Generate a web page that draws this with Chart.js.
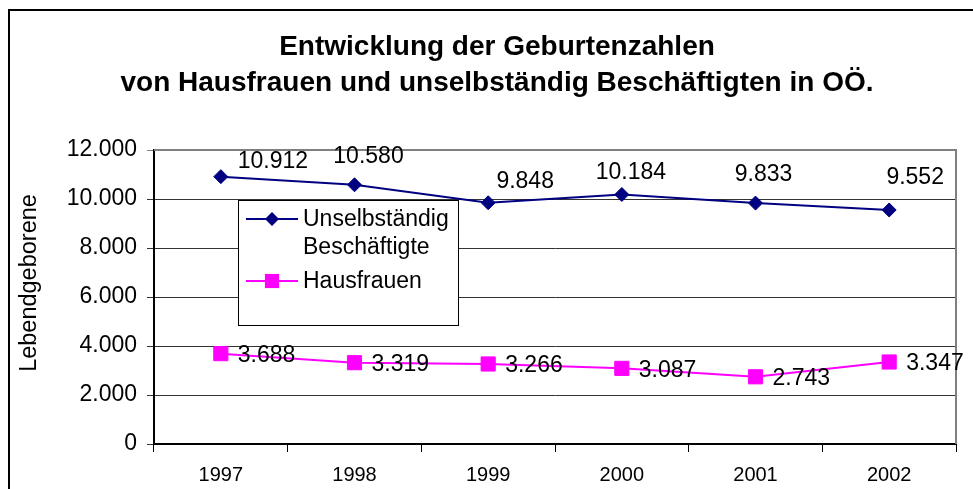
<!DOCTYPE html>
<html>
<head>
<meta charset="utf-8">
<script src="https://cdn.jsdelivr.net/npm/chart.js@4.4.0/dist/chart.umd.min.js"></script>
<style>
  html, body { margin: 0; padding: 0; background: #fff; }
  #wrap { width: 973px; height: 489px; }
</style>
</head>
<body>
<div id="wrap"><canvas id="geburtenChart" width="973" height="489"></canvas></div>
<script>
// Daten
const jahre = ['1997', '1998', '1999', '2000', '2001', '2002'];
const unselbstaendig = [10912, 10580, 9848, 10184, 9833, 9552];
const hausfrauen = [3688, 3319, 3266, 3087, 2743, 3347];
const yTicks = [0, 2000, 4000, 6000, 8000, 10000, 12000];

// Texte
const titelZeilen = ['Entwicklung der Geburtenzahlen', 'von Hausfrauen und unselbständig Beschäftigten in OÖ.'];
const yAchsenTitel = 'Lebendgeborene';
const legendeUnselbstaendig = ['Unselbständig', 'Beschäftigte'];
const legendeHausfrauen = ['Hausfrauen'];

// Versatz der Werte über der blauen Linie (Mitte der Beschriftung relativ zum Punkt)
const blauLabelVersatz = [[52, -15], [14, -28], [37, -21], [9, -22], [8, -28], [26, -32]];

const schrift = "'Liberation Sans', Arial, sans-serif";

function fmt(v) {
    return String(v).replace(/\B(?=(\d{3})+(?!\d))/g, '.');
}

// Rahmen, Titel, Achsentitel, Plotrand, Legende, Werte
const rahmenPlugin = {
    id: 'rahmen',
    beforeDraw(chart) {
        const ctx = chart.ctx;
        ctx.save();
        ctx.fillStyle = '#fff';
        ctx.fillRect(0, 0, chart.width, chart.height);
        ctx.strokeStyle = '#000';
        ctx.lineWidth = 2;
        ctx.beginPath();
        ctx.moveTo(9, chart.height);
        ctx.lineTo(9, 10);
        ctx.lineTo(chart.width, 10);
        ctx.stroke();

        // Titel
        ctx.fillStyle = '#000';
        ctx.font = 'bold 28px ' + schrift;
        ctx.textAlign = 'center';
        ctx.textBaseline = 'middle';
        ctx.fillText(titelZeilen[0], 497, 47);
        ctx.fillText(titelZeilen[1], 497, 83);

        // y-Achsentitel
        ctx.font = '23.5px ' + schrift;
        ctx.translate(30, 283);
        ctx.rotate(-Math.PI / 2);
        ctx.fillText(yAchsenTitel, 0, 0);
        ctx.restore();
    },
    beforeDatasetsDraw(chart) {
        const ctx = chart.ctx;
        const a = chart.chartArea;
        ctx.save();
        ctx.strokeStyle = '#808080';
        ctx.lineWidth = 2;
        ctx.beginPath();
        ctx.moveTo(a.left, a.top);
        ctx.lineTo(a.right, a.top);
        ctx.lineTo(a.right, a.bottom);
        ctx.stroke();

        // Legende im Diagramm
        ctx.fillStyle = '#fff';
        ctx.fillRect(238, 200, 221, 126);
        ctx.strokeStyle = '#000';
        ctx.lineWidth = 1;
        ctx.strokeRect(238.5, 200.5, 220, 125);

        const eintraege = [
            { ds: chart.data.datasets[0], zeilen: legendeUnselbstaendig, y: 219 },
            { ds: chart.data.datasets[1], zeilen: legendeHausfrauen, y: 281 }
        ];
        ctx.font = '23px ' + schrift;
        ctx.textAlign = 'left';
        ctx.textBaseline = 'middle';
        eintraege.forEach(e => {
            ctx.strokeStyle = e.ds.borderColor;
            ctx.lineWidth = 2;
            ctx.beginPath();
            ctx.moveTo(246, e.y);
            ctx.lineTo(298, e.y);
            ctx.stroke();
            zeichnePunkt(ctx, e.ds.pointStyle, e.ds.pointRadius, 272, e.y, e.ds.borderColor);
            ctx.fillStyle = '#000';
            e.zeilen.forEach((z, i) => ctx.fillText(z, 303, e.y + 1 + i * 28));
        });
        ctx.restore();
    },
    afterDatasetsDraw(chart) {
        const ctx = chart.ctx;
        ctx.save();
        ctx.fillStyle = '#000';
        ctx.font = '23px ' + schrift;
        ctx.textBaseline = 'middle';

        const blau = chart.getDatasetMeta(0).data;
        ctx.textAlign = 'center';
        blau.forEach((p, i) => {
            const [dx, dy] = blauLabelVersatz[i];
            ctx.fillText(fmt(unselbstaendig[i]), p.x + dx, p.y + dy);
        });

        const rosa = chart.getDatasetMeta(1).data;
        ctx.textAlign = 'left';
        rosa.forEach((p, i) => {
            ctx.fillText(fmt(hausfrauen[i]), p.x + 17, p.y + 2);
        });
        ctx.restore();
    }
};

function zeichnePunkt(ctx, stil, r, x, y, farbe) {
    ctx.fillStyle = farbe;
    ctx.beginPath();
    if (stil === 'rectRot') {
        ctx.moveTo(x - r, y);
        ctx.lineTo(x, y - r);
        ctx.lineTo(x + r, y);
        ctx.lineTo(x, y + r);
        ctx.closePath();
    } else {
        const h = r * Math.SQRT1_2;
        ctx.rect(x - h, y - h, 2 * h, 2 * h);
    }
    ctx.fill();
}

new Chart(document.getElementById('geburtenChart'), {
    type: 'line',
    data: {
        labels: jahre,
        datasets: [{
            label: legendeUnselbstaendig.join(' '),
            data: unselbstaendig,
            borderColor: '#000080',
            backgroundColor: '#000080',
            borderWidth: 2,
            pointStyle: 'rectRot',
            pointRadius: 7,
            pointBorderWidth: 1,
            tension: 0
        }, {
            label: legendeHausfrauen.join(' '),
            data: hausfrauen,
            borderColor: '#FF00FF',
            backgroundColor: '#FF00FF',
            borderWidth: 2,
            pointStyle: 'rect',
            pointRadius: 10,
            pointBorderWidth: 1,
            tension: 0
        }]
    },
    options: {
        responsive: false,
        animation: false,
        devicePixelRatio: 1,
        layout: { padding: { top: 150, right: 17, bottom: 0, left: 0 } },
        plugins: {
            legend: { display: false },
            tooltip: { enabled: false },
            title: { display: false }
        },
        scales: {
            x: {
                offset: true,
                grid: { offset: true, drawOnChartArea: false, drawTicks: true, tickLength: 8, color: '#000', lineWidth: 1 },
                border: { display: true, color: '#000', width: 2 },
                ticks: { font: { size: 20, family: schrift }, color: '#000', padding: 11, maxRotation: 0 },
                afterFit: s => { s.height = 45; }
            },
            y: {
                min: 0,
                max: 12000,
                afterBuildTicks: s => { s.ticks = yTicks.map(v => ({ value: v })); },
                grid: {
                    color: c => (c.tick && c.tick.value === 12000 ? '#808080' : '#333'),
                    lineWidth: 1,
                    tickLength: 7
                },
                border: { display: true, color: '#000', width: 2 },
                ticks: { font: { size: 23, family: schrift }, color: '#000', padding: 10, callback: v => fmt(v) },
                title: { display: false },
                afterFit: s => { s.width = 154; }
            }
        }
    },
    plugins: [rahmenPlugin]
});
</script>
</body>
</html>
